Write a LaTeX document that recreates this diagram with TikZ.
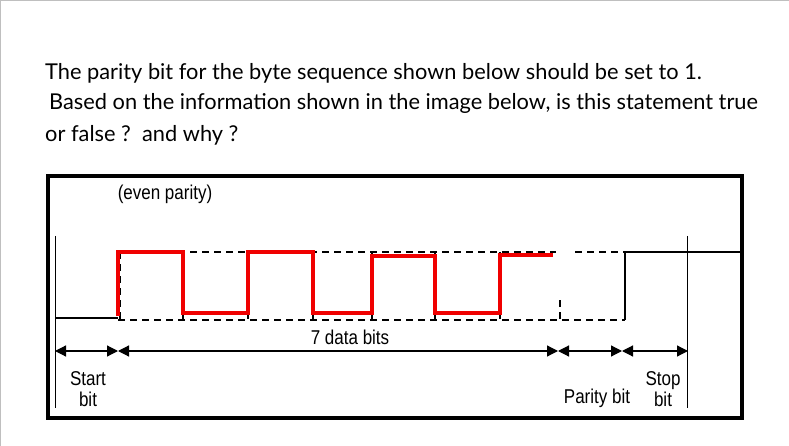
\documentclass[tikz,border=0pt]{standalone}
\usepackage{fontspec}
\setmainfont{Lato}
\newfontfamily\diag[FakeStretch=0.85]{Liberation Sans}
\usetikzlibrary{arrows.meta}
\begin{document}
\begin{tikzpicture}[x=1pt,y=-1pt,
  q/.style={anchor=west,font=\fontsize{21.8}{24}\selectfont,inner sep=0},
  lab/.style={font=\diag\fontsize{20}{21}\selectfont,inner sep=0,align=center},
  dsh/.style={line width=2.8pt,dash pattern=on 7pt off 5pt},
  sig/.style={line width=2.8pt},
  red/.style={line width=4.2pt,draw={rgb,255:red,240;green,0;blue,0}},
  dim/.style={line width=1.2pt,{Triangle[length=11pt,width=11pt]}-{Triangle[length=11pt,width=11pt]}}]
\useasboundingbox (0,0) rectangle (789,446);
\draw[gray!50] (0,0) rectangle (789,446);
\node[q] (t1) at (45,73) {The parity bit for the byte sequence shown below should be set to 1.};
\node[q] (t2) at (49,103) {Based on the information shown in the image below, is this statement true};
\node[q] (t3) at (45,135) {or false ?\ \ and why ?};
\draw[line width=3.2pt] (48,176) rectangle (742,418);
\draw[line width=1pt] (55,236) -- (55,408);
\draw[line width=1pt] (687,236) -- (687,408);
\node[lab] (ep) at (165,194) {(even parity)};
\draw[dsh] (118,252) -- (556,252);
\draw[dsh] (575,252) -- (625,252);
\draw[dsh] (118,320) -- (625,320);
\foreach \x in {120,183,248,313,372,435,500}{\draw[dsh,line width=1.8pt] (\x,252) -- (\x,320);}
\draw[dsh,line width=1.5pt] (560,300) -- (560,320);
\draw[sig] (55,318) -- (118,318);
\draw[sig] (625,320) -- (625,252) -- (740,252);
\draw[red] (118,316) -- (118,252) -- (183,252) -- (183,313) -- (248,313) -- (248,252) -- (313,252) -- (313,313) -- (372,313) -- (372,256) -- (435,256) -- (435,313) -- (500,313) -- (500,255) -- (553,255);
\coordinate (a0) at (55,351); \coordinate (a1) at (118,351);
\coordinate (a2) at (558,351); \coordinate (a3) at (622,351); \coordinate (a4) at (688,351);
\draw[dim] (a0) -- (a1); \draw[dim] (a1) -- (a2); \draw[dim] (a2) -- (a3); \draw[dim] (a3) -- (a4);
\node[lab] (db) at (350,337) {7 data bits};
\node[lab] (sb) at (88,389) {Start\\bit};
\node[lab] (pb) at (597,398) {Parity bit};
\node[lab] (st) at (663,389) {Stop\\bit};
\end{tikzpicture}
\end{document}
